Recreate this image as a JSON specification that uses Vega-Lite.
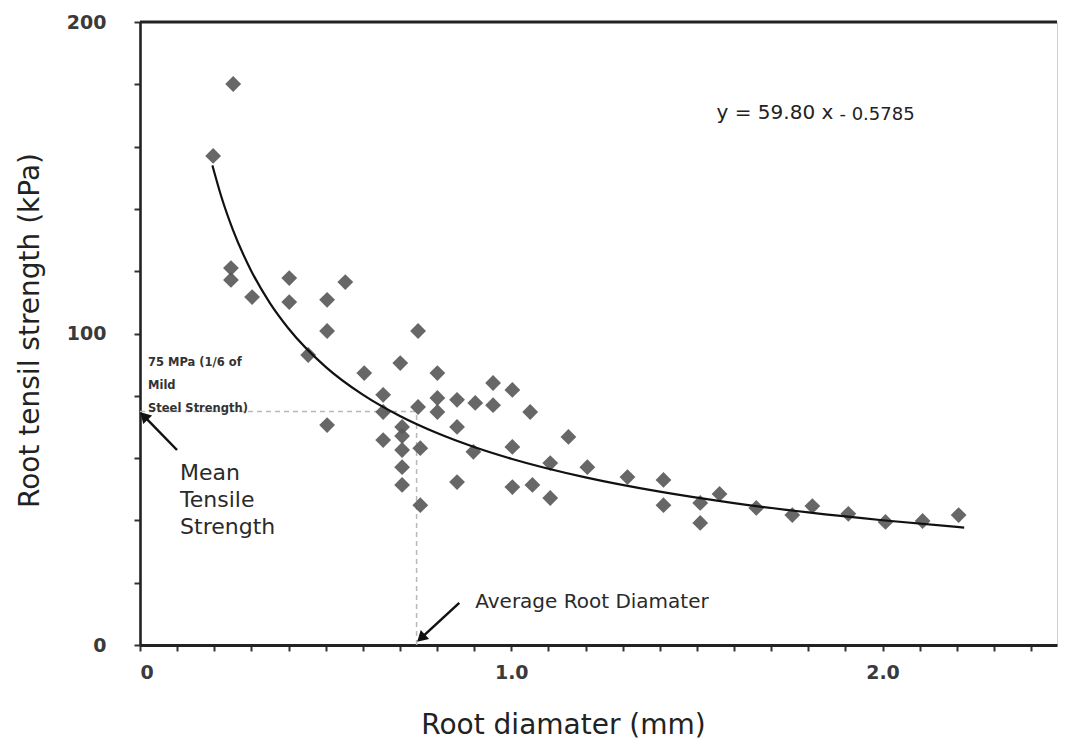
{
  "$schema": "https://vega.github.io/schema/vega-lite/v6.json",
  "autosize": "none",
  "width": 917,
  "height": 623,
  "padding": {"left": 140, "top": 22, "right": 8, "bottom": 102},
  "background": "white",
  "config": {
    "view": {"stroke": "#d0d0d0", "strokeWidth": 1},
    "font": "DejaVu Sans",
    "axis": {
      "grid": false,
      "labelOverlap": false,
      "labelFontSize": 19,
      "labelFontWeight": "bold",
      "labelColor": "#3a3a3a",
      "domainColor": "#222",
      "tickColor": "#333",
      "tickWidth": 2,
      "titleFontSize": 28,
      "titleFontWeight": "normal",
      "titleColor": "#222",
      "titleBaseline": "middle",
      "titleAlign": "center"
    },
    "axisX": {
      "labelExpr": "datum.value == 0 ? '0' : (abs(datum.value - 1) < 1e-6 || abs(datum.value - 2) < 1e-6 ? format(datum.value, '.1f') : '')",
      "labelPadding": 12,
      "domainWidth": 3,
      "tickSize": 6,
      "titleX": 423,
      "titleY": 80
    },
    "axisY": {
      "labelExpr": "datum.value % 100 == 0 ? datum.value : ''",
      "labelPadding": 28,
      "domainWidth": 2.6,
      "tickSize": 6,
      "titleX": -110,
      "titleY": 308,
      "titleAngle": -90
    }
  },
  "data": {"values": [{}]},
  "datasets": {
    "roots": [
      {"diameter": 0.251, "strength": 180.1},
      {"diameter": 0.197, "strength": 157.0},
      {"diameter": 0.245, "strength": 121.0},
      {"diameter": 0.245, "strength": 117.2},
      {"diameter": 0.302, "strength": 111.7},
      {"diameter": 0.402, "strength": 117.8},
      {"diameter": 0.402, "strength": 110.1},
      {"diameter": 0.504, "strength": 110.8},
      {"diameter": 0.553, "strength": 116.5},
      {"diameter": 0.504, "strength": 100.8},
      {"diameter": 0.453, "strength": 93.1},
      {"diameter": 0.604, "strength": 87.3},
      {"diameter": 0.504, "strength": 70.6},
      {"diameter": 0.701, "strength": 90.5},
      {"diameter": 0.749, "strength": 100.8},
      {"diameter": 0.655, "strength": 80.3},
      {"diameter": 0.655, "strength": 74.8},
      {"diameter": 0.655, "strength": 65.8},
      {"diameter": 0.801, "strength": 87.3},
      {"diameter": 0.801, "strength": 79.3},
      {"diameter": 0.801, "strength": 74.8},
      {"diameter": 0.854, "strength": 78.7},
      {"diameter": 0.903, "strength": 77.7},
      {"diameter": 0.951, "strength": 84.1},
      {"diameter": 0.951, "strength": 77.0},
      {"diameter": 1.003, "strength": 81.9},
      {"diameter": 1.051, "strength": 74.8},
      {"diameter": 0.749, "strength": 76.4},
      {"diameter": 0.706, "strength": 70.0},
      {"diameter": 0.706, "strength": 67.1},
      {"diameter": 0.706, "strength": 62.6},
      {"diameter": 0.755, "strength": 63.2},
      {"diameter": 0.706, "strength": 57.1},
      {"diameter": 0.706, "strength": 51.4},
      {"diameter": 0.755, "strength": 44.9},
      {"diameter": 0.854, "strength": 70.0},
      {"diameter": 0.854, "strength": 52.3},
      {"diameter": 0.898, "strength": 62.0},
      {"diameter": 1.003, "strength": 63.6},
      {"diameter": 1.003, "strength": 50.7},
      {"diameter": 1.057, "strength": 51.4},
      {"diameter": 1.105, "strength": 47.2},
      {"diameter": 1.105, "strength": 58.4},
      {"diameter": 1.154, "strength": 66.8},
      {"diameter": 1.205, "strength": 57.1},
      {"diameter": 1.313, "strength": 53.9},
      {"diameter": 1.410, "strength": 53.0},
      {"diameter": 1.410, "strength": 44.9},
      {"diameter": 1.509, "strength": 45.6},
      {"diameter": 1.509, "strength": 39.2},
      {"diameter": 1.561, "strength": 48.5},
      {"diameter": 1.660, "strength": 44.0},
      {"diameter": 1.757, "strength": 41.7},
      {"diameter": 1.811, "strength": 44.6},
      {"diameter": 1.908, "strength": 42.1},
      {"diameter": 2.008, "strength": 39.5},
      {"diameter": 2.108, "strength": 39.8},
      {"diameter": 2.205, "strength": 41.7}
    ],
    "powerFit": [
      {"diameter": 0.195, "strength": 153.97},
      {"diameter": 0.22, "strength": 143.58},
      {"diameter": 0.25, "strength": 133.35},
      {"diameter": 0.3, "strength": 120.01},
      {"diameter": 0.35, "strength": 109.76},
      {"diameter": 0.4, "strength": 101.61},
      {"diameter": 0.5, "strength": 89.30},
      {"diameter": 0.6, "strength": 80.36},
      {"diameter": 0.7, "strength": 73.51},
      {"diameter": 0.8, "strength": 68.04},
      {"diameter": 0.9, "strength": 63.56},
      {"diameter": 1.0, "strength": 59.80},
      {"diameter": 1.2, "strength": 53.81},
      {"diameter": 1.4, "strength": 49.22},
      {"diameter": 1.6, "strength": 45.56},
      {"diameter": 1.8, "strength": 42.57},
      {"diameter": 2.0, "strength": 40.05},
      {"diameter": 2.2, "strength": 37.90},
      {"diameter": 2.22, "strength": 37.70}
    ],
    "notes": [
      {"diameter": 1.553, "strength": 170.8, "label": "y = 59.80 x", "kind": "equation"},
      {"diameter": 1.884, "strength": 170.1, "label": "- 0.5785", "kind": "exponent"},
      {"diameter": 0.903, "strength": 13.8, "label": "Average Root Diamater", "kind": "callout"}
    ],
    "arrows": [
      {"diameter": 0.0997, "strength": 62.6, "tipDiameter": 0.0108, "tipStrength": 73.5, "heading": 316},
      {"diameter": 0.86, "strength": 13.5, "tipDiameter": 0.757, "tipStrength": 2.2, "heading": 227}
    ],
    "guides": [
      {"diameter": 0, "strength": 75, "endDiameter": 0.75, "endStrength": 75},
      {"diameter": 0.745, "strength": 0, "endDiameter": 0.745, "endStrength": 75}
    ]
  },
  "layer": [
    {
      "data": {"name": "guides"},
      "mark": {"type": "rule", "color": "#b8b8b8", "strokeWidth": 1.5, "strokeDash": [5, 4]},
      "encoding": {
        "x": {
          "field": "diameter", "type": "quantitative",
          "scale": {"domain": [0, 2.47], "nice": false, "zero": false},
          "axis": {
            "title": "Root diamater (mm)",
            "tickCount": 25,
            "values": [0, 0.1, 0.2, 0.3, 0.4, 0.5, 0.6, 0.7, 0.8, 0.9, 1, 1.1, 1.2, 1.3, 1.4, 1.5, 1.6, 1.7, 1.8, 1.9, 2, 2.1, 2.2, 2.3, 2.4]
          }
        },
        "y": {
          "field": "strength", "type": "quantitative",
          "scale": {"domain": [0, 200], "nice": false},
          "axis": {
            "title": "Root tensil strength (kPa)",
            "tickCount": 20,
            "values": [0, 10, 20, 30, 40, 50, 60, 70, 80, 90, 100, 110, 120, 130, 140, 150, 160, 170, 180, 190, 200]
          }
        },
        "x2": {"field": "endDiameter"},
        "y2": {"field": "endStrength"}
      }
    },
    {
      "data": {"name": "roots"},
      "mark": {"type": "point", "shape": "diamond", "filled": true, "size": 250, "color": "#5a5a5a", "opacity": 0.92},
      "encoding": {
        "x": {"field": "diameter", "type": "quantitative"},
        "y": {"field": "strength", "type": "quantitative"}
      }
    },
    {
      "data": {"name": "powerFit"},
      "mark": {"type": "line", "color": "#111", "strokeWidth": 2.2, "interpolate": "monotone"},
      "encoding": {
        "x": {"field": "diameter", "type": "quantitative"},
        "y": {"field": "strength", "type": "quantitative"}
      }
    },
    {
      "data": {"name": "arrows"},
      "mark": {"type": "rule", "color": "#111", "strokeWidth": 2.5},
      "encoding": {
        "x": {"field": "diameter", "type": "quantitative"},
        "y": {"field": "strength", "type": "quantitative"},
        "x2": {"field": "tipDiameter"},
        "y2": {"field": "tipStrength"}
      }
    },
    {
      "data": {"name": "arrows"},
      "mark": {"type": "point", "shape": "triangle-up", "filled": true, "size": 150, "color": "#111", "opacity": 1},
      "encoding": {
        "x": {"field": "tipDiameter", "type": "quantitative"},
        "y": {"field": "tipStrength", "type": "quantitative"},
        "angle": {"field": "heading", "type": "quantitative", "scale": null}
      }
    },
    {
      "data": {"name": "notes"},
      "transform": [{"filter": "datum.kind == 'equation'"}],
      "mark": {"type": "text", "align": "left", "baseline": "middle", "fontSize": 20, "color": "#222"},
      "encoding": {
        "x": {"field": "diameter", "type": "quantitative"},
        "y": {"field": "strength", "type": "quantitative"},
        "text": {"field": "label"}
      }
    },
    {
      "data": {"name": "notes"},
      "transform": [{"filter": "datum.kind == 'exponent'"}],
      "mark": {"type": "text", "align": "left", "baseline": "middle", "fontSize": 18, "color": "#222"},
      "encoding": {
        "x": {"field": "diameter", "type": "quantitative"},
        "y": {"field": "strength", "type": "quantitative"},
        "text": {"field": "label"}
      }
    },
    {
      "data": {"name": "notes"},
      "transform": [{"filter": "datum.kind == 'callout'"}],
      "mark": {"type": "text", "align": "left", "baseline": "middle", "fontSize": 20, "color": "#2a2a2a"},
      "encoding": {
        "x": {"field": "diameter", "type": "quantitative"},
        "y": {"field": "strength", "type": "quantitative"},
        "text": {"field": "label"}
      }
    },
    {
      "mark": {"type": "rule", "color": "#222", "strokeWidth": 3},
      "encoding": {"y": {"datum": 200}}
    },
    {
      "mark": {"type": "text", "align": "left", "baseline": "top", "fontSize": 11.5, "fontWeight": "bold", "color": "#333", "lineHeight": 23},
      "encoding": {"x": {"datum": 0.0216}, "y": {"datum": 92.4}, "text": {"value": ["75 MPa (1/6 of", "Mild", "Steel Strength)"]}}
    },
    {
      "mark": {"type": "text", "align": "left", "baseline": "top", "fontSize": 22, "color": "#2a2a2a", "lineHeight": 27},
      "encoding": {"x": {"datum": 0.108}, "y": {"datum": 58.4}, "text": {"value": ["Mean", "Tensile", "Strength"]}}
    }
  ]
}
